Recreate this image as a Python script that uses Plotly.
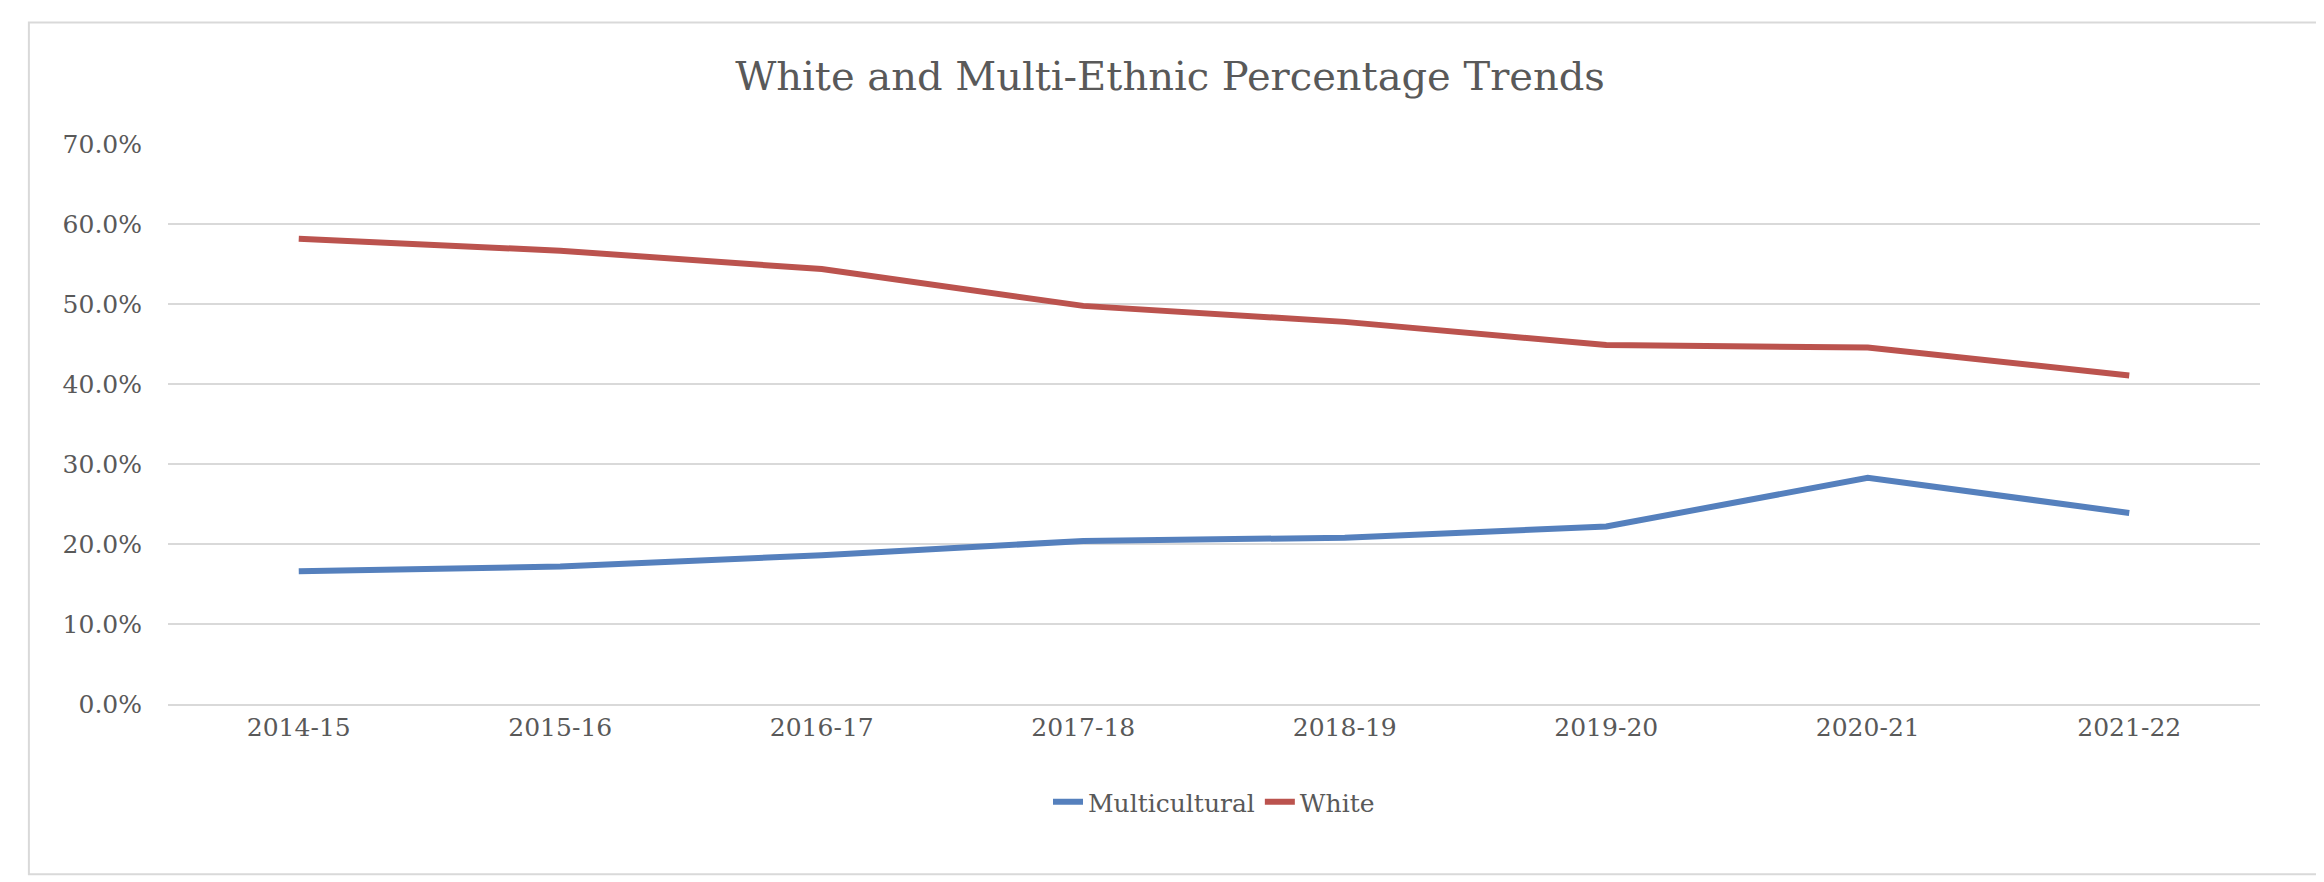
import plotly.graph_objects as go

years = ["2014-15", "2015-16", "2016-17", "2017-18", "2018-19", "2019-20", "2020-21", "2021-22"]
multicultural = [0.166, 0.172, 0.186, 0.204, 0.208, 0.222, 0.283, 0.239]
white = [0.582, 0.567, 0.544, 0.498, 0.478, 0.449, 0.446, 0.411]

fnt = "DejaVu Serif"

fig = go.Figure()
fig.add_trace(go.Scatter(x=years, y=multicultural, mode="lines", name="Multicultural",
                         line=dict(color="#5580BD", width=6)))
fig.add_trace(go.Scatter(x=years, y=white, mode="lines", name="White",
                         line=dict(color="#BB534E", width=6)))

fig.update_layout(
    width=2324, height=882,
    paper_bgcolor="white", plot_bgcolor="white",
    margin=dict(l=160, r=72, t=136, b=186),
    title=dict(text="White and Multi-Ethnic Percentage Trends", x=0.5, xanchor="center",
               y=1 - 68 / 882, yanchor="middle",
               font=dict(family=fnt, size=40, color="#595959")),
    font=dict(family=fnt, size=25, color="#595959"),
    legend=dict(orientation="h", x=0.5, xanchor="center", y=-0.175, yanchor="middle",
                font=dict(size=25, color="#595959")),
    xaxis=dict(showgrid=False, showline=True, linecolor="#d9d9d9", linewidth=2,
               ticks="", range=[-0.5, 7.5]),
    yaxis=dict(range=[0, 0.7005], tickvals=[0, 0.1, 0.2, 0.3, 0.4, 0.5, 0.6, 0.7],
               tickformat=".1%", gridcolor="#d9d9d9", gridwidth=2, zeroline=False,
               ticks="outside", ticklen=20, tickcolor="white"),
)
# outer frame
fig.add_shape(type="rect", xref="paper", yref="paper",
              x0=-0.0665, x1=1.030, y0=-0.304, y1=1.217,
              line=dict(color="#d9d9d9", width=2))

fig.write_html("out.html")
